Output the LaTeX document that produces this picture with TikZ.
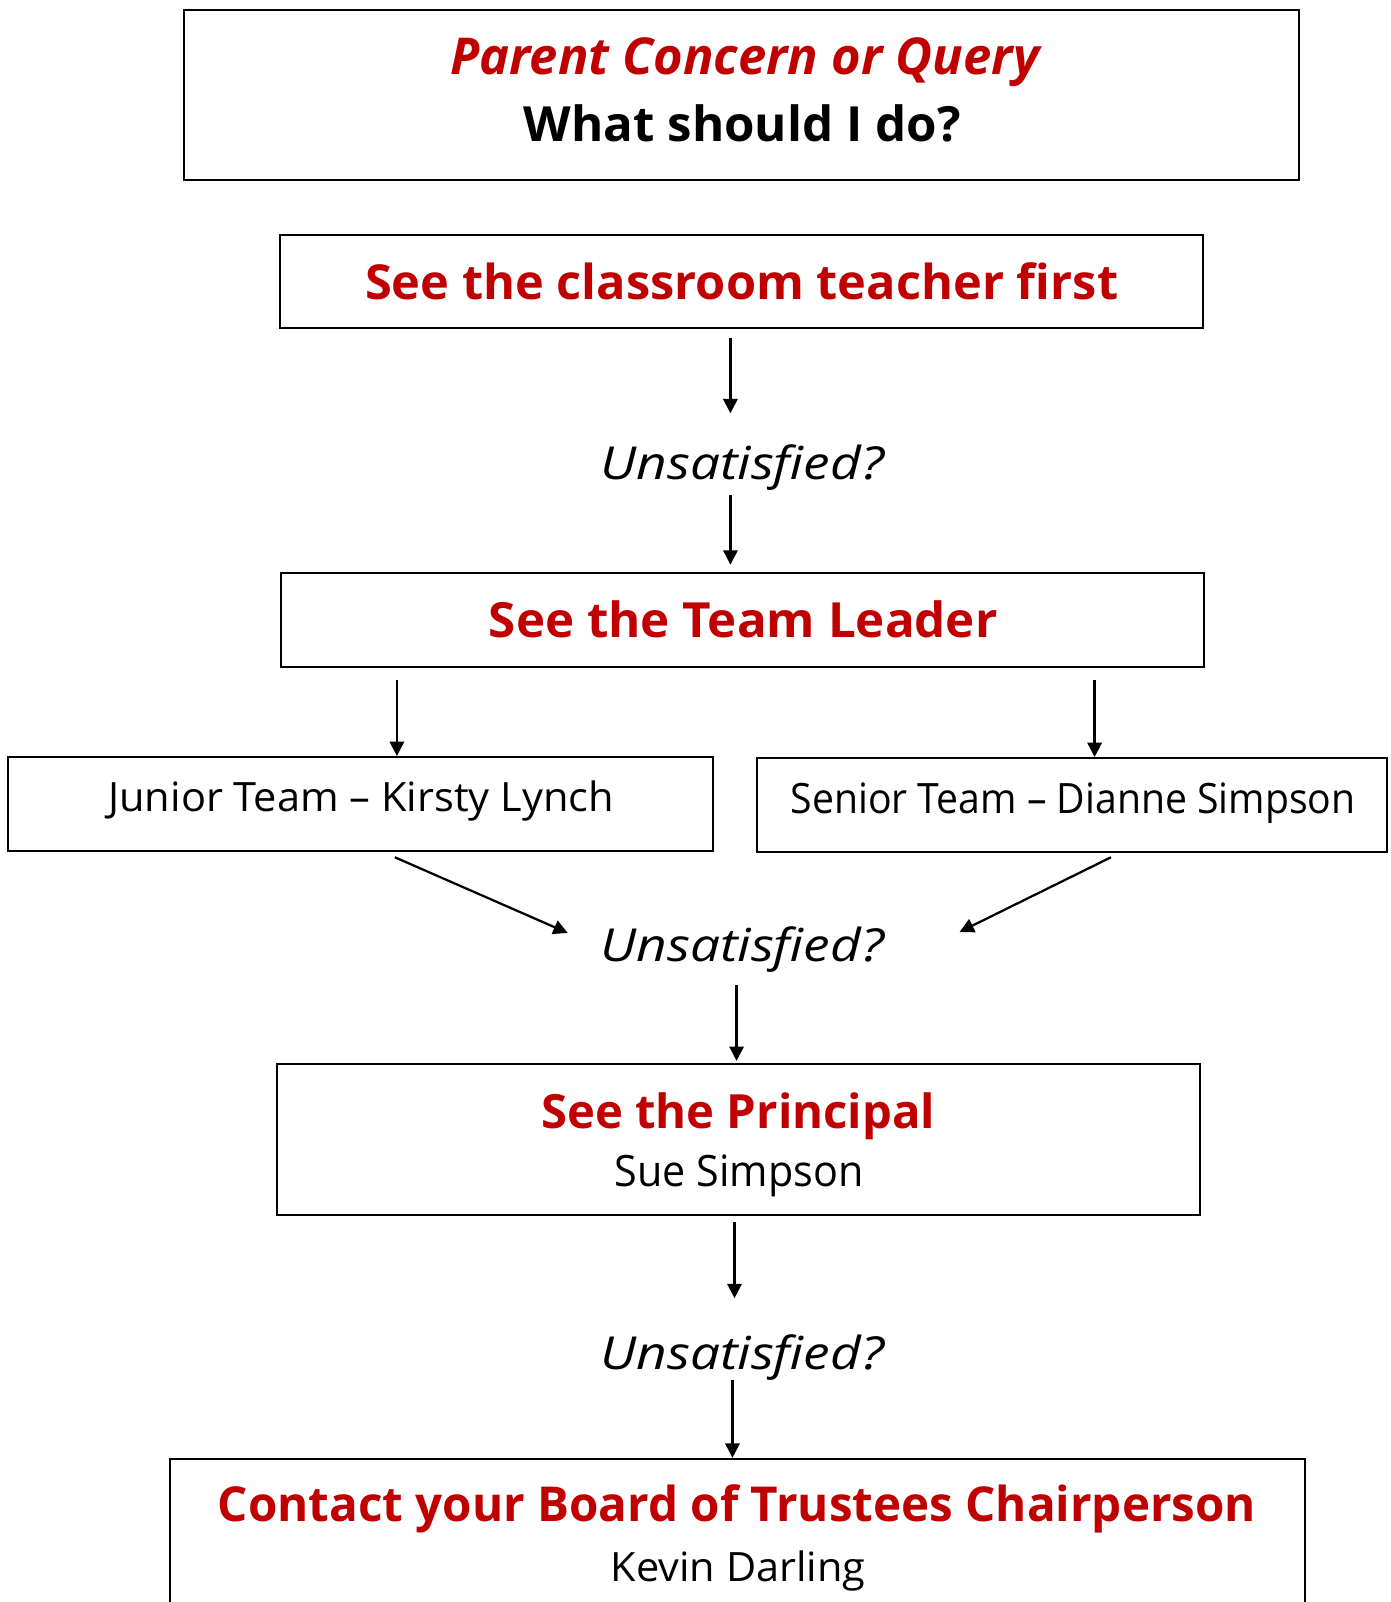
\documentclass[tikz,border=0pt]{standalone}
\usepackage{fontspec}
\usepackage{graphicx}
\setmainfont{Open Sans}
\usetikzlibrary{arrows.meta}
\definecolor{cred}{HTML}{C00000}
\newcommand{\fitT}[3]{\resizebox{#1pt}{#2pt}{#3}}
\begin{document}
\begin{tikzpicture}[x=1pt,y=-1pt,
  box/.style={draw, line width=2pt, inner sep=0pt, outer sep=0pt},
  txt/.style={inner sep=0pt, outer sep=0pt, anchor=base},
  redtxt/.style={txt, text=cred},
  arr/.style={line width=2.2pt, -{Triangle[length=14pt,width=14pt]}}]
\useasboundingbox (0,0) rectangle (1359,1566);
% boxes
\node[box, minimum width=1090pt, minimum height=166pt] (concern) at (725,93) {};
\node[box, minimum width=902pt, minimum height=91pt] (teacher) at (725,275.5) {};
\node[box, minimum width=902pt, minimum height=92pt] (leader) at (726,606) {};
\node[box, minimum width=689pt, minimum height=92pt] (junior) at (352.5,786) {};
\node[box, minimum width=616pt, minimum height=92pt] (senior) at (1048,787) {};
\node[box, minimum width=902pt, minimum height=148pt] (principal) at (722,1114) {};
\node[box, minimum width=1110pt, minimum height=184pt] (board) at (721,1518) {};
% texts
\node[redtxt] (concernA) at (728,73.3) {\fitT{576}{36}{\bfseries\itshape Parent Concern or Query}};
\node[txt] (concernB) at (725.5,138.5) {\fitT{427}{36}{\bfseries What should I do?}};
\node[redtxt] (teacherT) at (725,293) {\fitT{736}{36}{\bfseries See the classroom teacher first}};
\node[txt] (u1) at (725.5,469) {\fitT{277}{34}{\itshape Unsatisfied?}};
\node[redtxt] (leaderT) at (726.5,623) {\fitT{497}{36}{\bfseries See the Team Leader}};
\node[txt] (juniorT) at (353,793.5) {\fitT{494}{30}{Junior Team – Kirsty Lynch}};
\node[txt] (seniorT) at (1049,795) {\fitT{552}{30}{Senior Team – Dianne Simpson}};
\node[txt] (u2) at (725.5,940) {\fitT{277}{34}{\itshape Unsatisfied?}};
\node[redtxt] (principalT) at (721.5,1103) {\fitT{385}{35}{\bfseries See the Principal}};
\node[txt] (sueT) at (722.5,1160) {\fitT{243}{31}{Sue Simpson}};
\node[txt] (u3) at (725.5,1339) {\fitT{277}{34}{\itshape Unsatisfied?}};
\node[redtxt] (boardT) at (720.5,1487.5) {\fitT{1015}{36}{\bfseries Contact your Board of Trustees Chairperson}};
\node[txt] (kevinT) at (721.5,1546) {\fitT{249}{30}{Kevin Darling}};
% connectors
\draw[arr] ([xshift=-11pt,yshift=-9pt]teacher.south) -- ([xshift=-11.5pt,yshift=31pt]u1.north);
\draw[arr] ([xshift=-11.5pt,yshift=-15pt]u1.base) -- ([xshift=-12pt,yshift=8pt]leader.north);
\draw[arr] ([xshift=-338pt,yshift=-13pt]leader.south) -- ([xshift=35.5pt,yshift=1pt]junior.north);
\draw[arr] ([xshift=344pt,yshift=-13pt]leader.south) -- ([xshift=22pt,yshift=1pt]senior.north);
\draw[arr] ([xshift=33.5pt,yshift=-6pt]junior.south) -- ([xshift=-170.5pt,yshift=28pt]u2.base);
\draw[arr] ([xshift=38pt,yshift=-5pt]senior.south) -- ([xshift=212.5pt,yshift=29pt]u2.base);
\draw[arr] ([xshift=-5.5pt,yshift=-23pt]u2.base) -- ([xshift=-2pt,yshift=3pt]principal.north);
\draw[arr] ([xshift=-4pt,yshift=-7pt]principal.south) -- ([xshift=-7.5pt,yshift=36pt]u3.north);
\draw[arr] ([xshift=-9.5pt,yshift=-10pt]u3.base) -- ([xshift=-5pt,yshift=1pt]board.north);
\end{tikzpicture}
\end{document}
